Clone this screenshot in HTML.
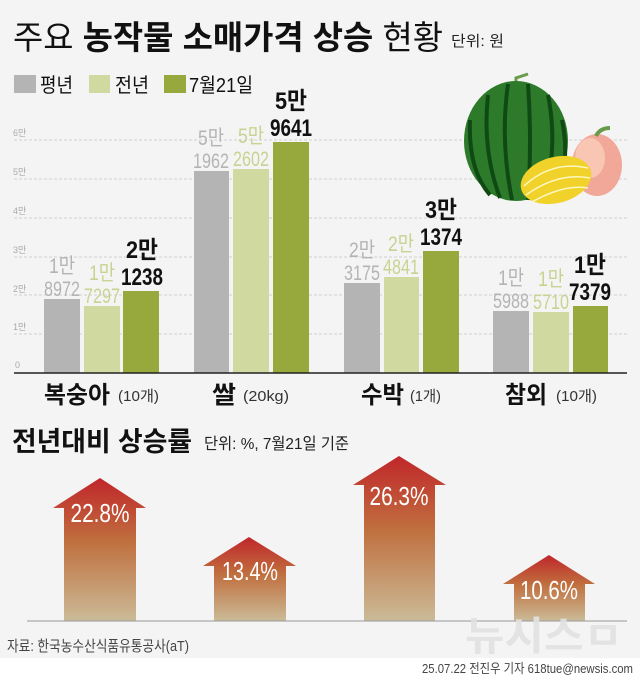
<!DOCTYPE html>
<html><head><meta charset="utf-8"><style>
html,body{margin:0;padding:0;background:#f4f4f4}
svg{display:block}
text{font-family:"Liberation Sans","Noto Sans CJK KR",sans-serif}
</style></head><body>
<svg width="640" height="678" viewBox="0 0 640 678" xmlns="http://www.w3.org/2000/svg">
<defs>
<linearGradient id="ag" x1="0" y1="0" x2="0" y2="1">
<stop offset="0" stop-color="#c0262a"/><stop offset="0.45" stop-color="#c0703f"/><stop offset="1" stop-color="#cbbb98"/>
</linearGradient>
</defs>
<rect width="640" height="678" fill="#f4f4f4"/>
<rect y="658" width="640" height="20" fill="#ffffff"/>
<!-- title -->
<text x="13" y="49" font-size="33" fill="#111" textLength="430" lengthAdjust="spacingAndGlyphs">주요 <tspan font-weight="bold">농작물 소매가격 상승</tspan> 현황</text>
<text x="451" y="46" font-size="15" fill="#222" textLength="53" lengthAdjust="spacingAndGlyphs">단위: 원</text>
<!-- legend -->
<rect x="14" y="75" width="22" height="18" fill="#b4b4b4"/><text x="40" y="92" font-size="20" fill="#111" textLength="33" lengthAdjust="spacingAndGlyphs">평년</text>
<rect x="89" y="75" width="21" height="18" fill="#cfd9a0"/><text x="115" y="92" font-size="20" fill="#111" textLength="34" lengthAdjust="spacingAndGlyphs">전년</text>
<rect x="164" y="75" width="22" height="18" fill="#97a83c"/><text x="189" y="92" font-size="20" fill="#111" textLength="64" lengthAdjust="spacingAndGlyphs">7월21일</text>
<!-- gridlines -->
<g stroke="#cfcfcf" stroke-dasharray="3,2" stroke-width="1">
<line x1="14" y1="140" x2="627" y2="140"/><line x1="14" y1="179" x2="627" y2="179"/><line x1="14" y1="218" x2="627" y2="218"/>
<line x1="14" y1="257" x2="627" y2="257"/><line x1="14" y1="295" x2="627" y2="295"/><line x1="14" y1="334" x2="627" y2="334"/>
</g>
<g font-size="9" fill="#aaa">
<text x="13" y="136">6만</text><text x="13" y="175">5만</text><text x="13" y="214">4만</text><text x="13" y="253">3만</text><text x="13" y="292">2만</text><text x="13" y="330">1만</text><text x="15" y="368">0</text>
</g>
<!-- fruits -->
<g>
<path d="M516 90 L516 78 L528 74" stroke="#6a9a4a" stroke-width="3" fill="none"/>
<ellipse cx="516" cy="141" rx="52" ry="60" fill="#2d7a2a"/>
<g stroke="#0f4a15" stroke-width="4" fill="none">
<path d="M470 120 Q468 170 490 195"/><path d="M488 95 Q482 150 500 198"/><path d="M508 84 Q500 140 512 200"/><path d="M528 84 Q532 140 528 200"/><path d="M548 95 Q558 145 545 195"/><path d="M562 120 Q570 160 558 185"/>
</g>
<ellipse cx="597" cy="165" rx="25" ry="31" fill="#f2a898"/>
<ellipse cx="590" cy="158" rx="15" ry="20" fill="#f8c6b2"/>
<path d="M596 136 Q600 128 610 128" stroke="#6a9a4a" stroke-width="4" fill="none"/>
<ellipse cx="556" cy="180" rx="36" ry="23" fill="#f0d22a" transform="rotate(-15 556 180)"/>
<g stroke="#fff8c0" stroke-width="1.5" fill="none">
<path d="M524 186 Q552 160 588 168"/><path d="M526 195 Q558 172 590 178"/><path d="M532 202 Q564 184 588 188"/>
</g>
</g>
<!-- bars -->
<g>
<rect x="44" y="299" width="36" height="74" fill="#b4b4b4"/><rect x="84" y="306" width="36" height="67" fill="#cfd9a0"/><rect x="123" y="291" width="36" height="82" fill="#97a83c"/>
<rect x="194" y="171" width="35" height="202" fill="#b4b4b4"/><rect x="233" y="169" width="36" height="204" fill="#cfd9a0"/><rect x="273" y="142" width="36" height="231" fill="#97a83c"/>
<rect x="344" y="283" width="36" height="90" fill="#b4b4b4"/><rect x="384" y="277" width="35" height="96" fill="#cfd9a0"/><rect x="423" y="251" width="36" height="122" fill="#97a83c"/>
<rect x="493" y="311" width="36" height="62" fill="#b4b4b4"/><rect x="533" y="312" width="36" height="61" fill="#cfd9a0"/><rect x="573" y="306" width="35" height="67" fill="#97a83c"/>
</g>
<line x1="14" y1="373" x2="627" y2="373" stroke="#222" stroke-width="1.5"/>
<!-- value labels -->
<g font-size="21" text-anchor="middle">
<g fill="#b4b4b4">
<text x="62" y="273" textLength="26" lengthAdjust="spacingAndGlyphs">1만</text><text x="62" y="296" textLength="36" lengthAdjust="spacingAndGlyphs">8972</text>
<text x="211" y="145" textLength="26" lengthAdjust="spacingAndGlyphs">5만</text><text x="211" y="168" textLength="36" lengthAdjust="spacingAndGlyphs">1962</text>
<text x="362" y="257" textLength="26" lengthAdjust="spacingAndGlyphs">2만</text><text x="362" y="280" textLength="36" lengthAdjust="spacingAndGlyphs">3175</text>
<text x="511" y="285" textLength="26" lengthAdjust="spacingAndGlyphs">1만</text><text x="511" y="308" textLength="36" lengthAdjust="spacingAndGlyphs">5988</text>
</g>
<g fill="#c9d391">
<text x="102" y="280" textLength="26" lengthAdjust="spacingAndGlyphs">1만</text><text x="102" y="303" textLength="36" lengthAdjust="spacingAndGlyphs">7297</text>
<text x="251" y="143" textLength="26" lengthAdjust="spacingAndGlyphs">5만</text><text x="251" y="166" textLength="36" lengthAdjust="spacingAndGlyphs">2602</text>
<text x="401" y="251" textLength="26" lengthAdjust="spacingAndGlyphs">2만</text><text x="401" y="274" textLength="36" lengthAdjust="spacingAndGlyphs">4841</text>
<text x="551" y="286" textLength="26" lengthAdjust="spacingAndGlyphs">1만</text><text x="551" y="309" textLength="36" lengthAdjust="spacingAndGlyphs">5710</text>
</g>
<g fill="#111" font-weight="bold" font-size="24">
<text x="142" y="258" textLength="32" lengthAdjust="spacingAndGlyphs">2만</text><text x="142" y="285" textLength="42" lengthAdjust="spacingAndGlyphs">1238</text>
<text x="291" y="109" textLength="32" lengthAdjust="spacingAndGlyphs">5만</text><text x="291" y="136" textLength="42" lengthAdjust="spacingAndGlyphs">9641</text>
<text x="441" y="218" textLength="32" lengthAdjust="spacingAndGlyphs">3만</text><text x="441" y="245" textLength="42" lengthAdjust="spacingAndGlyphs">1374</text>
<text x="590" y="273" textLength="32" lengthAdjust="spacingAndGlyphs">1만</text><text x="590" y="300" textLength="42" lengthAdjust="spacingAndGlyphs">7379</text>
</g>
</g>
<!-- categories -->
<g fill="#111" font-size="24" font-weight="bold">
<text x="44" y="403" textLength="66" lengthAdjust="spacingAndGlyphs">복숭아</text>
<text x="212" y="403" textLength="24" lengthAdjust="spacingAndGlyphs">쌀</text>
<text x="361" y="403" textLength="43" lengthAdjust="spacingAndGlyphs">수박</text>
<text x="505" y="403" textLength="42" lengthAdjust="spacingAndGlyphs">참외</text>
</g>
<g fill="#333" font-size="15">
<text x="118" y="401" textLength="41" lengthAdjust="spacingAndGlyphs">(10개)</text>
<text x="243" y="401" textLength="46" lengthAdjust="spacingAndGlyphs">(20kg)</text>
<text x="410" y="401" textLength="31" lengthAdjust="spacingAndGlyphs">(1개)</text>
<text x="556" y="401" textLength="41" lengthAdjust="spacingAndGlyphs">(10개)</text>
</g>
<!-- section2 -->
<text x="12" y="451" font-size="27" font-weight="bold" fill="#111" textLength="180" lengthAdjust="spacingAndGlyphs">전년대비 상승률</text>
<text x="204" y="449" font-size="16" fill="#222" textLength="145" lengthAdjust="spacingAndGlyphs">단위: %, 7월21일 기준</text>
<g fill="url(#ag)">
<path d="M100 478 L146 508 L136 508 L136 621 L64 621 L64 508 L53 508 Z"/>
<path d="M249 537 L296 566 L286 566 L286 621 L214 621 L214 566 L203 566 Z"/>
<path d="M399 456 L446 485 L435 485 L435 621 L364 621 L364 485 L353 485 Z"/>
<path d="M549 555 L595 584 L585 584 L585 621 L514 621 L514 584 L503 584 Z"/>
</g>
<g fill="#fff" font-size="26" text-anchor="middle">
<text x="100" y="522" textLength="59" lengthAdjust="spacingAndGlyphs">22.8%</text>
<text x="250" y="580" textLength="56" lengthAdjust="spacingAndGlyphs">13.4%</text>
<text x="399" y="505" textLength="59" lengthAdjust="spacingAndGlyphs">26.3%</text>
<text x="549" y="599" textLength="58" lengthAdjust="spacingAndGlyphs">10.6%</text>
</g>
<line x1="27" y1="621" x2="627" y2="621" stroke="#999" stroke-width="1"/>
<text x="465" y="650" font-size="40" font-weight="bold" fill="#e2e2e2" opacity="0.9" textLength="158" lengthAdjust="spacingAndGlyphs">뉴시스ㅁ</text>
<text x="7" y="651" font-size="15" fill="#444" textLength="182" lengthAdjust="spacingAndGlyphs">자료: 한국농수산식품유통공사(aT)</text>
<text x="633" y="673" font-size="13" fill="#444" text-anchor="end" textLength="211" lengthAdjust="spacingAndGlyphs">25.07.22 전진우 기자 618tue@newsis.com</text>
</svg>
</body></html>
